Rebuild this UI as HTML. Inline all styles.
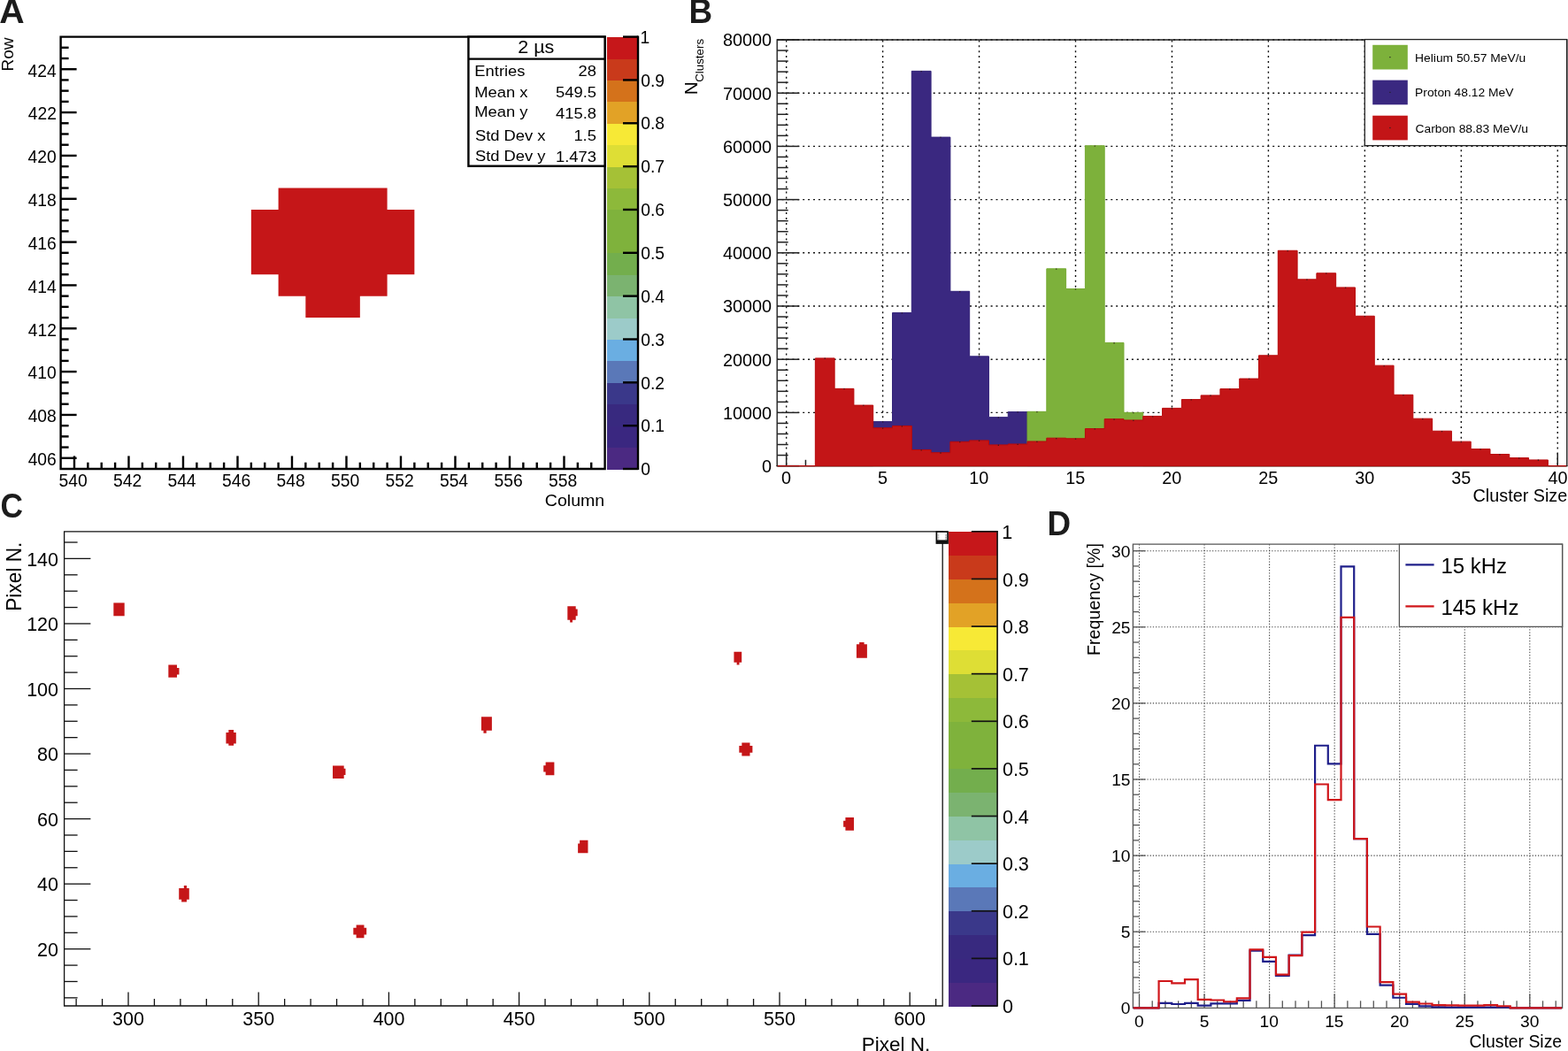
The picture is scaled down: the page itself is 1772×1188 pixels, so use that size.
<!DOCTYPE html><html><head><meta charset="utf-8"><title>Figure</title><style>html,body{margin:0;padding:0;background:#fff;overflow:hidden}svg{display:block}text{font-family:"Liberation Sans",Arial,Helvetica,sans-serif}</style></head><body>
<svg width="1772" height="1188" viewBox="0 0 1772 1188" font-family="Liberation Sans, Arial, Helvetica, sans-serif">
<rect x="0.00" y="0.00" width="1772.00" height="1188.00" fill="#fff"/>
<path d="M314.60 212.54H437.60V236.96H314.60ZM283.85 236.96H468.35V261.38H283.85ZM283.85 261.38H468.35V285.80H283.85ZM283.85 285.80H468.35V310.22H283.85ZM314.60 310.22H437.60V334.64H314.60ZM345.35 334.64H406.85V359.06H345.35Z" fill="#c51618"/>
<g shape-rendering="crispEdges">
<rect x="686.00" y="505.58" width="35.00" height="24.92" fill="#4b2982"/>
<rect x="686.00" y="481.16" width="35.00" height="24.92" fill="#3a2780"/>
<rect x="686.00" y="456.74" width="35.00" height="24.92" fill="#38297f"/>
<rect x="686.00" y="432.32" width="35.00" height="24.92" fill="#3a388a"/>
<rect x="686.00" y="407.90" width="35.00" height="24.92" fill="#5a78b8"/>
<rect x="686.00" y="383.48" width="35.00" height="24.92" fill="#6aaee2"/>
<rect x="686.00" y="359.06" width="35.00" height="24.92" fill="#9ccbc9"/>
<rect x="686.00" y="334.64" width="35.00" height="24.92" fill="#8fc4a5"/>
<rect x="686.00" y="310.22" width="35.00" height="24.92" fill="#7bb370"/>
<rect x="686.00" y="285.80" width="35.00" height="24.92" fill="#73ae4d"/>
<rect x="686.00" y="261.38" width="35.00" height="24.92" fill="#7fb23c"/>
<rect x="686.00" y="236.96" width="35.00" height="24.92" fill="#7fb23c"/>
<rect x="686.00" y="212.54" width="35.00" height="24.92" fill="#8db93a"/>
<rect x="686.00" y="188.12" width="35.00" height="24.92" fill="#a5c136"/>
<rect x="686.00" y="163.70" width="35.00" height="24.92" fill="#dede35"/>
<rect x="686.00" y="139.28" width="35.00" height="24.92" fill="#f7e936"/>
<rect x="686.00" y="114.86" width="35.00" height="24.92" fill="#e2a226"/>
<rect x="686.00" y="90.44" width="35.00" height="24.92" fill="#d4721b"/>
<rect x="686.00" y="66.02" width="35.00" height="24.92" fill="#c93a1b"/>
<rect x="686.00" y="41.60" width="35.00" height="24.92" fill="#c6171a"/>
</g>
<line x1="721.00" y1="40.60" x2="721.00" y2="531.00" stroke="#000" stroke-width="2.40"/>
<line x1="704.00" y1="530.00" x2="721.00" y2="530.00" stroke="#000" stroke-width="2.40"/>
<text transform="translate(724.23,537.20)" font-size="19.30" fill="#000">0</text>
<line x1="704.00" y1="481.16" x2="721.00" y2="481.16" stroke="#000" stroke-width="2.40"/>
<text transform="translate(724.23,488.36)" font-size="19.30" fill="#000">0.1</text>
<line x1="704.00" y1="432.32" x2="721.00" y2="432.32" stroke="#000" stroke-width="2.40"/>
<text transform="translate(724.23,439.52)" font-size="19.30" fill="#000">0.2</text>
<line x1="704.00" y1="383.48" x2="721.00" y2="383.48" stroke="#000" stroke-width="2.40"/>
<text transform="translate(724.23,390.68)" font-size="19.30" fill="#000">0.3</text>
<line x1="704.00" y1="334.64" x2="721.00" y2="334.64" stroke="#000" stroke-width="2.40"/>
<text transform="translate(724.23,341.84)" font-size="19.30" fill="#000">0.4</text>
<line x1="704.00" y1="285.80" x2="721.00" y2="285.80" stroke="#000" stroke-width="2.40"/>
<text transform="translate(724.23,293.00)" font-size="19.30" fill="#000">0.5</text>
<line x1="704.00" y1="236.96" x2="721.00" y2="236.96" stroke="#000" stroke-width="2.40"/>
<text transform="translate(724.23,244.16)" font-size="19.30" fill="#000">0.6</text>
<line x1="704.00" y1="188.12" x2="721.00" y2="188.12" stroke="#000" stroke-width="2.40"/>
<text transform="translate(724.23,195.32)" font-size="19.30" fill="#000">0.7</text>
<line x1="704.00" y1="139.28" x2="721.00" y2="139.28" stroke="#000" stroke-width="2.40"/>
<text transform="translate(724.23,146.48)" font-size="19.30" fill="#000">0.8</text>
<line x1="704.00" y1="90.44" x2="721.00" y2="90.44" stroke="#000" stroke-width="2.40"/>
<text transform="translate(724.23,97.64)" font-size="19.30" fill="#000">0.9</text>
<line x1="704.00" y1="41.60" x2="721.00" y2="41.60" stroke="#000" stroke-width="2.40"/>
<text transform="translate(723.55,48.80)" font-size="19.30" fill="#000">1</text>
<path d="M68.60 41.60 H683.60 V530.00 H68.60 Z" fill="none" stroke="#000" stroke-width="2.4"/>
<line x1="68.60" y1="517.79" x2="86.60" y2="517.79" stroke="#000" stroke-width="2.40"/>
<text transform="translate(31.64,526.14)" font-size="19.30" fill="#000">406</text>
<line x1="68.60" y1="505.58" x2="77.60" y2="505.58" stroke="#000" stroke-width="2.40"/>
<line x1="68.60" y1="493.37" x2="77.60" y2="493.37" stroke="#000" stroke-width="2.40"/>
<line x1="68.60" y1="481.16" x2="77.60" y2="481.16" stroke="#000" stroke-width="2.40"/>
<line x1="68.60" y1="468.95" x2="86.60" y2="468.95" stroke="#000" stroke-width="2.40"/>
<text transform="translate(31.64,477.30)" font-size="19.30" fill="#000">408</text>
<line x1="68.60" y1="456.74" x2="77.60" y2="456.74" stroke="#000" stroke-width="2.40"/>
<line x1="68.60" y1="444.53" x2="77.60" y2="444.53" stroke="#000" stroke-width="2.40"/>
<line x1="68.60" y1="432.32" x2="77.60" y2="432.32" stroke="#000" stroke-width="2.40"/>
<line x1="68.60" y1="420.11" x2="86.60" y2="420.11" stroke="#000" stroke-width="2.40"/>
<text transform="translate(31.54,428.46)" font-size="19.30" fill="#000">410</text>
<line x1="68.60" y1="407.90" x2="77.60" y2="407.90" stroke="#000" stroke-width="2.40"/>
<line x1="68.60" y1="395.69" x2="77.60" y2="395.69" stroke="#000" stroke-width="2.40"/>
<line x1="68.60" y1="383.48" x2="77.60" y2="383.48" stroke="#000" stroke-width="2.40"/>
<line x1="68.60" y1="371.27" x2="86.60" y2="371.27" stroke="#000" stroke-width="2.40"/>
<text transform="translate(31.83,379.62)" font-size="19.30" fill="#000">412</text>
<line x1="68.60" y1="359.06" x2="77.60" y2="359.06" stroke="#000" stroke-width="2.40"/>
<line x1="68.60" y1="346.85" x2="77.60" y2="346.85" stroke="#000" stroke-width="2.40"/>
<line x1="68.60" y1="334.64" x2="77.60" y2="334.64" stroke="#000" stroke-width="2.40"/>
<line x1="68.60" y1="322.43" x2="86.60" y2="322.43" stroke="#000" stroke-width="2.40"/>
<text transform="translate(31.44,330.78)" font-size="19.30" fill="#000">414</text>
<line x1="68.60" y1="310.22" x2="77.60" y2="310.22" stroke="#000" stroke-width="2.40"/>
<line x1="68.60" y1="298.01" x2="77.60" y2="298.01" stroke="#000" stroke-width="2.40"/>
<line x1="68.60" y1="285.80" x2="77.60" y2="285.80" stroke="#000" stroke-width="2.40"/>
<line x1="68.60" y1="273.59" x2="86.60" y2="273.59" stroke="#000" stroke-width="2.40"/>
<text transform="translate(31.64,281.94)" font-size="19.30" fill="#000">416</text>
<line x1="68.60" y1="261.38" x2="77.60" y2="261.38" stroke="#000" stroke-width="2.40"/>
<line x1="68.60" y1="249.17" x2="77.60" y2="249.17" stroke="#000" stroke-width="2.40"/>
<line x1="68.60" y1="236.96" x2="77.60" y2="236.96" stroke="#000" stroke-width="2.40"/>
<line x1="68.60" y1="224.75" x2="86.60" y2="224.75" stroke="#000" stroke-width="2.40"/>
<text transform="translate(31.64,233.10)" font-size="19.30" fill="#000">418</text>
<line x1="68.60" y1="212.54" x2="77.60" y2="212.54" stroke="#000" stroke-width="2.40"/>
<line x1="68.60" y1="200.33" x2="77.60" y2="200.33" stroke="#000" stroke-width="2.40"/>
<line x1="68.60" y1="188.12" x2="77.60" y2="188.12" stroke="#000" stroke-width="2.40"/>
<line x1="68.60" y1="175.91" x2="86.60" y2="175.91" stroke="#000" stroke-width="2.40"/>
<text transform="translate(31.54,184.26)" font-size="19.30" fill="#000">420</text>
<line x1="68.60" y1="163.70" x2="77.60" y2="163.70" stroke="#000" stroke-width="2.40"/>
<line x1="68.60" y1="151.49" x2="77.60" y2="151.49" stroke="#000" stroke-width="2.40"/>
<line x1="68.60" y1="139.28" x2="77.60" y2="139.28" stroke="#000" stroke-width="2.40"/>
<line x1="68.60" y1="127.07" x2="86.60" y2="127.07" stroke="#000" stroke-width="2.40"/>
<text transform="translate(31.83,135.42)" font-size="19.30" fill="#000">422</text>
<line x1="68.60" y1="114.86" x2="77.60" y2="114.86" stroke="#000" stroke-width="2.40"/>
<line x1="68.60" y1="102.65" x2="77.60" y2="102.65" stroke="#000" stroke-width="2.40"/>
<line x1="68.60" y1="90.44" x2="77.60" y2="90.44" stroke="#000" stroke-width="2.40"/>
<line x1="68.60" y1="78.23" x2="86.60" y2="78.23" stroke="#000" stroke-width="2.40"/>
<text transform="translate(31.44,86.58)" font-size="19.30" fill="#000">424</text>
<line x1="68.60" y1="66.02" x2="77.60" y2="66.02" stroke="#000" stroke-width="2.40"/>
<line x1="68.60" y1="53.81" x2="77.60" y2="53.81" stroke="#000" stroke-width="2.40"/>
<line x1="83.97" y1="530.00" x2="83.97" y2="515.40" stroke="#000" stroke-width="2.40"/>
<text transform="translate(66.46,550.20)" font-size="19.30" fill="#000">540</text>
<line x1="99.35" y1="530.00" x2="99.35" y2="522.70" stroke="#000" stroke-width="2.40"/>
<line x1="114.72" y1="530.00" x2="114.72" y2="522.70" stroke="#000" stroke-width="2.40"/>
<line x1="130.10" y1="530.00" x2="130.10" y2="522.70" stroke="#000" stroke-width="2.40"/>
<line x1="145.47" y1="530.00" x2="145.47" y2="515.40" stroke="#000" stroke-width="2.40"/>
<text transform="translate(128.10,550.20)" font-size="19.30" fill="#000">542</text>
<line x1="160.85" y1="530.00" x2="160.85" y2="522.70" stroke="#000" stroke-width="2.40"/>
<line x1="176.22" y1="530.00" x2="176.22" y2="522.70" stroke="#000" stroke-width="2.40"/>
<line x1="191.60" y1="530.00" x2="191.60" y2="522.70" stroke="#000" stroke-width="2.40"/>
<line x1="206.97" y1="530.00" x2="206.97" y2="515.40" stroke="#000" stroke-width="2.40"/>
<text transform="translate(189.41,550.20)" font-size="19.30" fill="#000">544</text>
<line x1="222.35" y1="530.00" x2="222.35" y2="522.70" stroke="#000" stroke-width="2.40"/>
<line x1="237.72" y1="530.00" x2="237.72" y2="522.70" stroke="#000" stroke-width="2.40"/>
<line x1="253.10" y1="530.00" x2="253.10" y2="522.70" stroke="#000" stroke-width="2.40"/>
<line x1="268.48" y1="530.00" x2="268.48" y2="515.40" stroke="#000" stroke-width="2.40"/>
<text transform="translate(251.01,550.20)" font-size="19.30" fill="#000">546</text>
<line x1="283.85" y1="530.00" x2="283.85" y2="522.70" stroke="#000" stroke-width="2.40"/>
<line x1="299.23" y1="530.00" x2="299.23" y2="522.70" stroke="#000" stroke-width="2.40"/>
<line x1="314.60" y1="530.00" x2="314.60" y2="522.70" stroke="#000" stroke-width="2.40"/>
<line x1="329.98" y1="530.00" x2="329.98" y2="515.40" stroke="#000" stroke-width="2.40"/>
<text transform="translate(312.51,550.20)" font-size="19.30" fill="#000">548</text>
<line x1="345.35" y1="530.00" x2="345.35" y2="522.70" stroke="#000" stroke-width="2.40"/>
<line x1="360.73" y1="530.00" x2="360.73" y2="522.70" stroke="#000" stroke-width="2.40"/>
<line x1="376.10" y1="530.00" x2="376.10" y2="522.70" stroke="#000" stroke-width="2.40"/>
<line x1="391.48" y1="530.00" x2="391.48" y2="515.40" stroke="#000" stroke-width="2.40"/>
<text transform="translate(373.96,550.20)" font-size="19.30" fill="#000">550</text>
<line x1="406.85" y1="530.00" x2="406.85" y2="522.70" stroke="#000" stroke-width="2.40"/>
<line x1="422.23" y1="530.00" x2="422.23" y2="522.70" stroke="#000" stroke-width="2.40"/>
<line x1="437.60" y1="530.00" x2="437.60" y2="522.70" stroke="#000" stroke-width="2.40"/>
<line x1="452.98" y1="530.00" x2="452.98" y2="515.40" stroke="#000" stroke-width="2.40"/>
<text transform="translate(435.60,550.20)" font-size="19.30" fill="#000">552</text>
<line x1="468.35" y1="530.00" x2="468.35" y2="522.70" stroke="#000" stroke-width="2.40"/>
<line x1="483.73" y1="530.00" x2="483.73" y2="522.70" stroke="#000" stroke-width="2.40"/>
<line x1="499.10" y1="530.00" x2="499.10" y2="522.70" stroke="#000" stroke-width="2.40"/>
<line x1="514.48" y1="530.00" x2="514.48" y2="515.40" stroke="#000" stroke-width="2.40"/>
<text transform="translate(496.91,550.20)" font-size="19.30" fill="#000">554</text>
<line x1="529.85" y1="530.00" x2="529.85" y2="522.70" stroke="#000" stroke-width="2.40"/>
<line x1="545.23" y1="530.00" x2="545.23" y2="522.70" stroke="#000" stroke-width="2.40"/>
<line x1="560.60" y1="530.00" x2="560.60" y2="522.70" stroke="#000" stroke-width="2.40"/>
<line x1="575.98" y1="530.00" x2="575.98" y2="515.40" stroke="#000" stroke-width="2.40"/>
<text transform="translate(558.51,550.20)" font-size="19.30" fill="#000">556</text>
<line x1="591.35" y1="530.00" x2="591.35" y2="522.70" stroke="#000" stroke-width="2.40"/>
<line x1="606.73" y1="530.00" x2="606.73" y2="522.70" stroke="#000" stroke-width="2.40"/>
<line x1="622.10" y1="530.00" x2="622.10" y2="522.70" stroke="#000" stroke-width="2.40"/>
<line x1="637.48" y1="530.00" x2="637.48" y2="515.40" stroke="#000" stroke-width="2.40"/>
<text transform="translate(620.01,550.20)" font-size="19.30" fill="#000">558</text>
<line x1="652.85" y1="530.00" x2="652.85" y2="522.70" stroke="#000" stroke-width="2.40"/>
<line x1="668.23" y1="530.00" x2="668.23" y2="522.70" stroke="#000" stroke-width="2.40"/>
<text transform="translate(615.81,571.60) scale(1.0200,1)" font-size="19.20" fill="#000">Column</text>
<text transform="translate(14.80,80.59) rotate(-90)" font-size="19.00" fill="#000">Row</text>
<rect x="529.40" y="41.60" width="154.20" height="146.10" fill="#fff" stroke="#000" stroke-width="2.40"/>
<line x1="529.40" y1="66.60" x2="683.60" y2="66.60" stroke="#000" stroke-width="2.40"/>
<text transform="translate(585.31,60.20) scale(1.0750,1)" font-size="20.00" fill="#000">2 µs</text>
<text transform="translate(536.33,85.75) scale(1.0800,1)" font-size="17.00" fill="#000">Entries</text>
<text transform="translate(653.55,85.75) scale(1.0800,1)" font-size="17.00" fill="#000">28</text>
<text transform="translate(536.33,109.70) scale(1.0800,1)" font-size="17.00" fill="#000">Mean x</text>
<text transform="translate(628.03,110.10) scale(1.0800,1)" font-size="17.00" fill="#000">549.5</text>
<text transform="translate(536.33,131.80) scale(1.0800,1)" font-size="17.00" fill="#000">Mean y</text>
<text transform="translate(628.03,134.10) scale(1.0800,1)" font-size="17.00" fill="#000">415.8</text>
<text transform="translate(536.97,158.90) scale(1.0800,1)" font-size="17.00" fill="#000">Std Dev x</text>
<text transform="translate(648.41,158.90) scale(1.0800,1)" font-size="17.00" fill="#000">1.5</text>
<text transform="translate(536.97,181.90) scale(1.0800,1)" font-size="17.00" fill="#000">Std Dev y</text>
<text transform="translate(628.03,183.00) scale(1.0800,1)" font-size="17.00" fill="#000">1.473</text>
<text transform="translate(-0.68,26.00) scale(1.0350,1)" font-size="38.00" font-weight="bold" fill="#1c1c1c">A</text>
<line x1="888.66" y1="526.60" x2="888.66" y2="45.00" stroke="#111" stroke-width="1.40" stroke-dasharray="2 3.9" stroke-dashoffset="4.6"/>
<line x1="997.61" y1="526.60" x2="997.61" y2="45.00" stroke="#111" stroke-width="1.40" stroke-dasharray="2 3.9" stroke-dashoffset="4.6"/>
<line x1="1106.56" y1="526.60" x2="1106.56" y2="45.00" stroke="#111" stroke-width="1.40" stroke-dasharray="2 3.9" stroke-dashoffset="4.6"/>
<line x1="1215.51" y1="526.60" x2="1215.51" y2="45.00" stroke="#111" stroke-width="1.40" stroke-dasharray="2 3.9" stroke-dashoffset="4.6"/>
<line x1="1324.46" y1="526.60" x2="1324.46" y2="45.00" stroke="#111" stroke-width="1.40" stroke-dasharray="2 3.9" stroke-dashoffset="4.6"/>
<line x1="1433.41" y1="526.60" x2="1433.41" y2="45.00" stroke="#111" stroke-width="1.40" stroke-dasharray="2 3.9" stroke-dashoffset="4.6"/>
<line x1="1542.36" y1="526.60" x2="1542.36" y2="45.00" stroke="#111" stroke-width="1.40" stroke-dasharray="2 3.9" stroke-dashoffset="4.6"/>
<line x1="1651.31" y1="526.60" x2="1651.31" y2="45.00" stroke="#111" stroke-width="1.40" stroke-dasharray="2 3.9" stroke-dashoffset="4.6"/>
<line x1="1760.26" y1="526.60" x2="1760.26" y2="45.00" stroke="#111" stroke-width="1.40" stroke-dasharray="2 3.9" stroke-dashoffset="4.6"/>
<line x1="878.20" y1="466.40" x2="1770.80" y2="466.40" stroke="#111" stroke-width="1.40" stroke-dasharray="2 3.9" stroke-dashoffset="0.5"/>
<line x1="878.20" y1="406.20" x2="1770.80" y2="406.20" stroke="#111" stroke-width="1.40" stroke-dasharray="2 3.9" stroke-dashoffset="0.5"/>
<line x1="878.20" y1="346.00" x2="1770.80" y2="346.00" stroke="#111" stroke-width="1.40" stroke-dasharray="2 3.9" stroke-dashoffset="0.5"/>
<line x1="878.20" y1="285.80" x2="1770.80" y2="285.80" stroke="#111" stroke-width="1.40" stroke-dasharray="2 3.9" stroke-dashoffset="0.5"/>
<line x1="878.20" y1="225.60" x2="1770.80" y2="225.60" stroke="#111" stroke-width="1.40" stroke-dasharray="2 3.9" stroke-dashoffset="0.5"/>
<line x1="878.20" y1="165.40" x2="1770.80" y2="165.40" stroke="#111" stroke-width="1.40" stroke-dasharray="2 3.9" stroke-dashoffset="0.5"/>
<line x1="878.20" y1="105.20" x2="1770.80" y2="105.20" stroke="#111" stroke-width="1.40" stroke-dasharray="2 3.9" stroke-dashoffset="0.5"/>
<line x1="878.20" y1="45.00" x2="1770.80" y2="45.00" stroke="#111" stroke-width="1.40" stroke-dasharray="2 3.9" stroke-dashoffset="0.5"/>
<line x1="878.20" y1="526.60" x2="903.20" y2="526.60" stroke="#222" stroke-width="1.50"/>
<line x1="878.20" y1="514.56" x2="890.70" y2="514.56" stroke="#222" stroke-width="1.50"/>
<line x1="878.20" y1="502.52" x2="890.70" y2="502.52" stroke="#222" stroke-width="1.50"/>
<line x1="878.20" y1="490.48" x2="890.70" y2="490.48" stroke="#222" stroke-width="1.50"/>
<line x1="878.20" y1="478.44" x2="890.70" y2="478.44" stroke="#222" stroke-width="1.50"/>
<line x1="878.20" y1="466.40" x2="903.20" y2="466.40" stroke="#222" stroke-width="1.50"/>
<line x1="878.20" y1="454.36" x2="890.70" y2="454.36" stroke="#222" stroke-width="1.50"/>
<line x1="878.20" y1="442.32" x2="890.70" y2="442.32" stroke="#222" stroke-width="1.50"/>
<line x1="878.20" y1="430.28" x2="890.70" y2="430.28" stroke="#222" stroke-width="1.50"/>
<line x1="878.20" y1="418.24" x2="890.70" y2="418.24" stroke="#222" stroke-width="1.50"/>
<line x1="878.20" y1="406.20" x2="903.20" y2="406.20" stroke="#222" stroke-width="1.50"/>
<line x1="878.20" y1="394.16" x2="890.70" y2="394.16" stroke="#222" stroke-width="1.50"/>
<line x1="878.20" y1="382.12" x2="890.70" y2="382.12" stroke="#222" stroke-width="1.50"/>
<line x1="878.20" y1="370.08" x2="890.70" y2="370.08" stroke="#222" stroke-width="1.50"/>
<line x1="878.20" y1="358.04" x2="890.70" y2="358.04" stroke="#222" stroke-width="1.50"/>
<line x1="878.20" y1="346.00" x2="903.20" y2="346.00" stroke="#222" stroke-width="1.50"/>
<line x1="878.20" y1="333.96" x2="890.70" y2="333.96" stroke="#222" stroke-width="1.50"/>
<line x1="878.20" y1="321.92" x2="890.70" y2="321.92" stroke="#222" stroke-width="1.50"/>
<line x1="878.20" y1="309.88" x2="890.70" y2="309.88" stroke="#222" stroke-width="1.50"/>
<line x1="878.20" y1="297.84" x2="890.70" y2="297.84" stroke="#222" stroke-width="1.50"/>
<line x1="878.20" y1="285.80" x2="903.20" y2="285.80" stroke="#222" stroke-width="1.50"/>
<line x1="878.20" y1="273.76" x2="890.70" y2="273.76" stroke="#222" stroke-width="1.50"/>
<line x1="878.20" y1="261.72" x2="890.70" y2="261.72" stroke="#222" stroke-width="1.50"/>
<line x1="878.20" y1="249.68" x2="890.70" y2="249.68" stroke="#222" stroke-width="1.50"/>
<line x1="878.20" y1="237.64" x2="890.70" y2="237.64" stroke="#222" stroke-width="1.50"/>
<line x1="878.20" y1="225.60" x2="903.20" y2="225.60" stroke="#222" stroke-width="1.50"/>
<line x1="878.20" y1="213.56" x2="890.70" y2="213.56" stroke="#222" stroke-width="1.50"/>
<line x1="878.20" y1="201.52" x2="890.70" y2="201.52" stroke="#222" stroke-width="1.50"/>
<line x1="878.20" y1="189.48" x2="890.70" y2="189.48" stroke="#222" stroke-width="1.50"/>
<line x1="878.20" y1="177.44" x2="890.70" y2="177.44" stroke="#222" stroke-width="1.50"/>
<line x1="878.20" y1="165.40" x2="903.20" y2="165.40" stroke="#222" stroke-width="1.50"/>
<line x1="878.20" y1="153.36" x2="890.70" y2="153.36" stroke="#222" stroke-width="1.50"/>
<line x1="878.20" y1="141.32" x2="890.70" y2="141.32" stroke="#222" stroke-width="1.50"/>
<line x1="878.20" y1="129.28" x2="890.70" y2="129.28" stroke="#222" stroke-width="1.50"/>
<line x1="878.20" y1="117.24" x2="890.70" y2="117.24" stroke="#222" stroke-width="1.50"/>
<line x1="878.20" y1="105.20" x2="903.20" y2="105.20" stroke="#222" stroke-width="1.50"/>
<line x1="878.20" y1="93.16" x2="890.70" y2="93.16" stroke="#222" stroke-width="1.50"/>
<line x1="878.20" y1="81.12" x2="890.70" y2="81.12" stroke="#222" stroke-width="1.50"/>
<line x1="878.20" y1="69.08" x2="890.70" y2="69.08" stroke="#222" stroke-width="1.50"/>
<line x1="878.20" y1="57.04" x2="890.70" y2="57.04" stroke="#222" stroke-width="1.50"/>
<line x1="878.20" y1="45.00" x2="903.20" y2="45.00" stroke="#222" stroke-width="1.50"/>
<line x1="888.66" y1="526.60" x2="888.66" y2="512.20" stroke="#222" stroke-width="1.50"/>
<line x1="910.45" y1="526.60" x2="910.45" y2="519.80" stroke="#222" stroke-width="1.50"/>
<line x1="932.24" y1="526.60" x2="932.24" y2="519.80" stroke="#222" stroke-width="1.50"/>
<line x1="954.03" y1="526.60" x2="954.03" y2="519.80" stroke="#222" stroke-width="1.50"/>
<line x1="975.82" y1="526.60" x2="975.82" y2="519.80" stroke="#222" stroke-width="1.50"/>
<line x1="997.61" y1="526.60" x2="997.61" y2="512.20" stroke="#222" stroke-width="1.50"/>
<line x1="1019.40" y1="526.60" x2="1019.40" y2="519.80" stroke="#222" stroke-width="1.50"/>
<line x1="1041.19" y1="526.60" x2="1041.19" y2="519.80" stroke="#222" stroke-width="1.50"/>
<line x1="1062.98" y1="526.60" x2="1062.98" y2="519.80" stroke="#222" stroke-width="1.50"/>
<line x1="1084.77" y1="526.60" x2="1084.77" y2="519.80" stroke="#222" stroke-width="1.50"/>
<line x1="1106.56" y1="526.60" x2="1106.56" y2="512.20" stroke="#222" stroke-width="1.50"/>
<line x1="1128.35" y1="526.60" x2="1128.35" y2="519.80" stroke="#222" stroke-width="1.50"/>
<line x1="1150.14" y1="526.60" x2="1150.14" y2="519.80" stroke="#222" stroke-width="1.50"/>
<line x1="1171.93" y1="526.60" x2="1171.93" y2="519.80" stroke="#222" stroke-width="1.50"/>
<line x1="1193.72" y1="526.60" x2="1193.72" y2="519.80" stroke="#222" stroke-width="1.50"/>
<line x1="1215.51" y1="526.60" x2="1215.51" y2="512.20" stroke="#222" stroke-width="1.50"/>
<line x1="1237.30" y1="526.60" x2="1237.30" y2="519.80" stroke="#222" stroke-width="1.50"/>
<line x1="1259.09" y1="526.60" x2="1259.09" y2="519.80" stroke="#222" stroke-width="1.50"/>
<line x1="1280.88" y1="526.60" x2="1280.88" y2="519.80" stroke="#222" stroke-width="1.50"/>
<line x1="1302.67" y1="526.60" x2="1302.67" y2="519.80" stroke="#222" stroke-width="1.50"/>
<line x1="1324.46" y1="526.60" x2="1324.46" y2="512.20" stroke="#222" stroke-width="1.50"/>
<line x1="1346.25" y1="526.60" x2="1346.25" y2="519.80" stroke="#222" stroke-width="1.50"/>
<line x1="1368.04" y1="526.60" x2="1368.04" y2="519.80" stroke="#222" stroke-width="1.50"/>
<line x1="1389.83" y1="526.60" x2="1389.83" y2="519.80" stroke="#222" stroke-width="1.50"/>
<line x1="1411.62" y1="526.60" x2="1411.62" y2="519.80" stroke="#222" stroke-width="1.50"/>
<line x1="1433.41" y1="526.60" x2="1433.41" y2="512.20" stroke="#222" stroke-width="1.50"/>
<line x1="1455.20" y1="526.60" x2="1455.20" y2="519.80" stroke="#222" stroke-width="1.50"/>
<line x1="1476.99" y1="526.60" x2="1476.99" y2="519.80" stroke="#222" stroke-width="1.50"/>
<line x1="1498.78" y1="526.60" x2="1498.78" y2="519.80" stroke="#222" stroke-width="1.50"/>
<line x1="1520.57" y1="526.60" x2="1520.57" y2="519.80" stroke="#222" stroke-width="1.50"/>
<line x1="1542.36" y1="526.60" x2="1542.36" y2="512.20" stroke="#222" stroke-width="1.50"/>
<line x1="1564.15" y1="526.60" x2="1564.15" y2="519.80" stroke="#222" stroke-width="1.50"/>
<line x1="1585.94" y1="526.60" x2="1585.94" y2="519.80" stroke="#222" stroke-width="1.50"/>
<line x1="1607.73" y1="526.60" x2="1607.73" y2="519.80" stroke="#222" stroke-width="1.50"/>
<line x1="1629.52" y1="526.60" x2="1629.52" y2="519.80" stroke="#222" stroke-width="1.50"/>
<line x1="1651.31" y1="526.60" x2="1651.31" y2="512.20" stroke="#222" stroke-width="1.50"/>
<line x1="1673.10" y1="526.60" x2="1673.10" y2="519.80" stroke="#222" stroke-width="1.50"/>
<line x1="1694.89" y1="526.60" x2="1694.89" y2="519.80" stroke="#222" stroke-width="1.50"/>
<line x1="1716.68" y1="526.60" x2="1716.68" y2="519.80" stroke="#222" stroke-width="1.50"/>
<line x1="1738.47" y1="526.60" x2="1738.47" y2="519.80" stroke="#222" stroke-width="1.50"/>
<line x1="1760.26" y1="526.60" x2="1760.26" y2="512.20" stroke="#222" stroke-width="1.50"/>
<path d="M877.76 526.60 H877.76 V526.60 H899.55 H899.55 V526.60 H921.35 H921.35 V526.60 H943.13 H943.13 V526.60 H964.92 H964.92 V526.60 H986.71 H986.71 V476.62 H1008.50 H1008.50 V353.57 H1030.30 H1030.30 V80.36 H1052.09 H1052.09 V155.08 H1073.88 H1073.88 V329.32 H1095.66 H1095.66 V402.83 H1117.45 H1117.45 V471.63 H1139.24 H1139.24 V465.62 H1161.03 H1161.03 V526.60 H1182.82 H1182.82 V526.60 H1204.62 H1204.62 V526.60 H1226.40 H1226.40 V526.60 H1248.19 H1248.19 V526.60 H1269.98 H1269.98 V526.60 H1291.78 H1291.78 V526.60 H1313.57 H1313.57 V526.60 H1335.36 H1335.36 V526.60 H1357.14 H1357.14 V526.60 H1378.93 H1378.93 V526.60 H1400.72 H1400.72 V526.60 H1422.51 H1422.51 V526.60 H1444.30 H1444.30 V526.60 H1466.09 H1466.09 V526.60 H1487.88 H1487.88 V526.60 H1509.67 H1509.67 V526.60 H1531.46 H1531.46 V526.60 H1553.26 H1553.26 V526.60 H1575.05 H1575.05 V526.60 H1596.84 H1596.84 V526.60 H1618.62 H1618.62 V526.60 H1640.41 H1640.41 V526.60 H1662.20 H1662.20 V526.60 H1683.99 H1683.99 V526.60 H1705.78 H1705.78 V526.60 H1727.57 H1727.57 V526.60 H1749.36 H1749.36 V526.60 H1771.15 V526.60 Z" fill="#3a2880" stroke="#34247a" stroke-width="1"/>
<path d="M1018.75 353.27h1.3v1.3h-1.3ZM1040.54 80.06h1.3v1.3h-1.3ZM1062.33 154.78h1.3v1.3h-1.3ZM1084.12 329.02h1.3v1.3h-1.3ZM1105.91 402.53h1.3v1.3h-1.3ZM1127.70 471.33h1.3v1.3h-1.3ZM1149.49 465.32h1.3v1.3h-1.3ZM996.96 476.32h1.3v1.3h-1.3Z" fill="#2a1a1a" opacity="0.8"/>
<path d="M877.76 526.60 H877.76 V526.60 H899.55 H899.55 V526.60 H921.35 H921.35 V526.60 H943.13 H943.13 V526.60 H964.92 H964.92 V526.60 H986.71 H986.71 V526.60 H1008.50 H1008.50 V526.60 H1030.30 H1030.30 V526.60 H1052.09 H1052.09 V526.60 H1073.88 H1073.88 V526.60 H1095.66 H1095.66 V526.60 H1117.45 H1117.45 V526.60 H1139.24 H1139.24 V526.60 H1161.03 H1161.03 V465.32 H1182.82 H1182.82 V303.80 H1204.62 H1204.62 V326.56 H1226.40 H1226.40 V164.74 H1248.19 H1248.19 V387.42 H1269.98 H1269.98 V466.34 H1291.78 H1291.78 V526.60 H1313.57 H1313.57 V526.60 H1335.36 H1335.36 V526.60 H1357.14 H1357.14 V526.60 H1378.93 H1378.93 V526.60 H1400.72 H1400.72 V526.60 H1422.51 H1422.51 V526.60 H1444.30 H1444.30 V526.60 H1466.09 H1466.09 V526.60 H1487.88 H1487.88 V526.60 H1509.67 H1509.67 V526.60 H1531.46 H1531.46 V526.60 H1553.26 H1553.26 V526.60 H1575.05 H1575.05 V526.60 H1596.84 H1596.84 V526.60 H1618.62 H1618.62 V526.60 H1640.41 H1640.41 V526.60 H1662.20 H1662.20 V526.60 H1683.99 H1683.99 V526.60 H1705.78 H1705.78 V526.60 H1727.57 H1727.57 V526.60 H1749.36 H1749.36 V526.60 H1771.15 V526.60 Z" fill="#7db13b" stroke="#76ab33" stroke-width="1"/>
<path d="M1171.28 465.02h1.3v1.3h-1.3ZM1193.07 303.50h1.3v1.3h-1.3ZM1214.86 326.26h1.3v1.3h-1.3ZM1236.65 164.44h1.3v1.3h-1.3ZM1258.44 387.12h1.3v1.3h-1.3ZM1280.23 466.04h1.3v1.3h-1.3Z" fill="#2a1a1a" opacity="0.8"/>
<path d="M877.76 526.60 H877.76 V526.60 H899.55 H899.55 V526.60 H921.35 H921.35 V404.90 H943.13 H943.13 V439.35 H964.92 H964.92 V458.09 H986.71 H986.71 V483.73 H1008.50 H1008.50 V481.45 H1030.30 H1030.30 V508.48 H1052.09 H1052.09 V511.67 H1073.88 H1073.88 V499.27 H1095.66 H1095.66 V497.88 H1117.45 H1117.45 V502.88 H1139.24 H1139.24 V501.98 H1161.03 H1161.03 V498.97 H1182.82 H1182.82 V495.18 H1204.62 H1204.62 V495.78 H1226.40 H1226.40 V484.58 H1248.19 H1248.19 V473.68 H1269.98 H1269.98 V474.95 H1291.78 H1291.78 V470.43 H1313.57 H1313.57 V461.40 H1335.36 H1335.36 V451.59 H1357.14 H1357.14 V446.90 H1378.93 H1378.93 V439.61 H1400.72 H1400.72 V428.05 H1422.51 H1422.51 V401.81 H1444.30 H1444.30 V283.27 H1466.09 H1466.09 V315.84 H1487.88 H1487.88 V308.80 H1509.67 H1509.67 V324.93 H1531.46 H1531.46 V357.26 H1553.26 H1553.26 V413.18 H1575.05 H1575.05 V446.29 H1596.84 H1596.84 V473.20 H1618.62 H1618.62 V487.23 H1640.41 H1640.41 V499.15 H1662.20 H1662.20 V507.58 H1683.99 H1683.99 V513.48 H1705.78 H1705.78 V517.57 H1727.57 H1727.57 V519.92 H1749.36 H1749.36 V526.60 H1771.15 V526.60 Z" fill="#c31517" stroke="#b80a0c" stroke-width="1"/>
<path d="M931.59 404.60h1.3v1.3h-1.3ZM953.38 439.05h1.3v1.3h-1.3ZM975.17 457.79h1.3v1.3h-1.3ZM996.96 483.43h1.3v1.3h-1.3ZM1018.75 481.15h1.3v1.3h-1.3ZM1040.54 508.18h1.3v1.3h-1.3ZM1062.33 511.37h1.3v1.3h-1.3ZM1084.12 498.97h1.3v1.3h-1.3ZM1105.91 497.58h1.3v1.3h-1.3ZM1127.70 502.58h1.3v1.3h-1.3ZM1149.49 501.68h1.3v1.3h-1.3ZM1171.28 498.67h1.3v1.3h-1.3ZM1193.07 494.88h1.3v1.3h-1.3ZM1214.86 495.48h1.3v1.3h-1.3ZM1236.65 484.28h1.3v1.3h-1.3ZM1258.44 473.38h1.3v1.3h-1.3ZM1280.23 474.65h1.3v1.3h-1.3ZM1302.02 470.13h1.3v1.3h-1.3ZM1323.81 461.10h1.3v1.3h-1.3ZM1345.60 451.29h1.3v1.3h-1.3ZM1367.39 446.60h1.3v1.3h-1.3ZM1389.18 439.31h1.3v1.3h-1.3ZM1410.97 427.75h1.3v1.3h-1.3ZM1432.76 401.51h1.3v1.3h-1.3ZM1454.55 282.97h1.3v1.3h-1.3ZM1476.34 315.54h1.3v1.3h-1.3ZM1498.13 308.50h1.3v1.3h-1.3ZM1519.92 324.63h1.3v1.3h-1.3ZM1541.71 356.96h1.3v1.3h-1.3ZM1563.50 412.88h1.3v1.3h-1.3ZM1585.29 445.99h1.3v1.3h-1.3ZM1607.08 472.90h1.3v1.3h-1.3ZM1628.87 486.93h1.3v1.3h-1.3ZM1650.66 498.85h1.3v1.3h-1.3ZM1672.45 507.28h1.3v1.3h-1.3ZM1694.24 513.18h1.3v1.3h-1.3ZM1716.03 517.27h1.3v1.3h-1.3ZM1737.82 519.62h1.3v1.3h-1.3Z" fill="#2a1a1a" opacity="0.8"/>
<path d="M878.20 45.00 H1770.80 V526.60 H878.20 Z" fill="none" stroke="#222" stroke-width="1.4"/>
<line x1="878.90" y1="526.60" x2="1770.10" y2="526.60" stroke="#b50c0c" stroke-width="1.40"/>
<text transform="translate(861.10,534.00)" font-size="19.80" fill="#000">0</text>
<text transform="translate(817.05,473.80)" font-size="19.80" fill="#000">10000</text>
<text transform="translate(817.05,413.60)" font-size="19.80" fill="#000">20000</text>
<text transform="translate(817.05,353.40)" font-size="19.80" fill="#000">30000</text>
<text transform="translate(817.05,293.20)" font-size="19.80" fill="#000">40000</text>
<text transform="translate(817.05,233.00)" font-size="19.80" fill="#000">50000</text>
<text transform="translate(817.05,172.80)" font-size="19.80" fill="#000">60000</text>
<text transform="translate(817.05,112.60)" font-size="19.80" fill="#000">70000</text>
<text transform="translate(817.05,52.40)" font-size="19.80" fill="#000">80000</text>
<text transform="translate(883.12,546.50)" font-size="19.80" fill="#000">0</text>
<text transform="translate(992.12,546.50)" font-size="19.80" fill="#000">5</text>
<text transform="translate(1095.17,546.50)" font-size="19.80" fill="#000">10</text>
<text transform="translate(1204.17,546.50)" font-size="19.80" fill="#000">15</text>
<text transform="translate(1313.32,546.50)" font-size="19.80" fill="#000">20</text>
<text transform="translate(1422.32,546.50)" font-size="19.80" fill="#000">25</text>
<text transform="translate(1531.32,546.50)" font-size="19.80" fill="#000">30</text>
<text transform="translate(1640.32,546.50)" font-size="19.80" fill="#000">35</text>
<text transform="translate(1749.42,546.50)" font-size="19.80" fill="#000">40</text>
<text transform="translate(1664.57,567.30)" font-size="19.80" fill="#000">Cluster Size</text>
<text transform="translate(788.00,107.24) rotate(-90)" font-size="20.50" fill="#000">N</text>
<text transform="translate(795.30,92.87) rotate(-90) scale(1.0600,1.0000)" font-size="12.60" fill="#000">Clusters</text>
<rect x="1542.30" y="44.60" width="228.30" height="120.00" fill="#fff" stroke="#222" stroke-width="1.30"/>
<rect x="1551.20" y="50.80" width="39.60" height="27.70" fill="#7db13b"/>
<rect x="1570.30" y="64.00" width="1.20" height="1.20" fill="#222"/>
<text transform="translate(1599.09,69.80) scale(1.0400,1)" font-size="13.30" fill="#000">Helium 50.57 MeV/u</text>
<rect x="1551.20" y="90.60" width="39.60" height="27.70" fill="#3a2880"/>
<rect x="1570.30" y="103.80" width="1.20" height="1.20" fill="#222"/>
<text transform="translate(1599.09,109.30) scale(1.0400,1)" font-size="13.30" fill="#000">Proton 48.12 MeV</text>
<rect x="1551.20" y="130.70" width="39.60" height="27.70" fill="#c31517"/>
<rect x="1570.30" y="143.90" width="1.20" height="1.20" fill="#222"/>
<text transform="translate(1599.51,149.70) scale(1.0400,1)" font-size="13.30" fill="#000">Carbon 88.83 MeV/u</text>
<text transform="translate(778.40,26.00) scale(0.9700,1)" font-size="38.00" font-weight="bold" fill="#1c1c1c">B</text>
<path d="M128.32 681.42H140.68V696.28H128.32Z" fill="#c51618"/>
<path d="M190.32 751.42H199.98V765.68H190.32ZM198.22 755.12H202.48V762.48H198.22Z" fill="#c51618"/>
<path d="M258.32 825.12H264.08V829.78H258.32ZM255.42 828.02H266.78V840.48H255.42ZM258.32 838.72H264.08V842.68H258.32Z" fill="#c51618"/>
<path d="M376.02 865.52H388.68V879.98H376.02ZM386.92 868.82H390.48V875.88H386.92Z" fill="#c51618"/>
<path d="M207.82 1001.12H210.98V1005.88H207.82ZM202.22 1004.12H213.78V1016.78H202.22ZM205.12 1015.02H210.98V1019.48H205.12Z" fill="#c51618"/>
<path d="M402.62 1045.62H411.48V1060.28H402.62ZM399.32 1048.82H414.18V1056.48H399.32Z" fill="#c51618"/>
<path d="M543.92 810.22H555.88V825.68H543.92ZM546.42 823.92H549.68V828.78H546.42Z" fill="#c51618"/>
<path d="M641.32 685.32H650.68V700.78H641.32ZM648.92 688.52H652.68V696.18H648.92ZM644.12 699.02H646.98V703.58H644.12Z" fill="#c51618"/>
<path d="M616.62 861.62H626.38V876.18H616.62ZM614.22 865.32H618.38V872.48H614.22Z" fill="#c51618"/>
<path d="M655.12 949.82H664.48V964.28H655.12ZM653.12 953.62H656.88V964.28H653.12Z" fill="#c51618"/>
<path d="M829.42 736.82H838.18V748.68H829.42ZM832.62 746.92H835.48V751.48H832.62Z" fill="#c51618"/>
<path d="M838.32 839.42H847.48V854.48H838.32ZM835.32 843.12H850.38V850.68H835.32Z" fill="#c51618"/>
<path d="M967.92 728.22H979.88V743.68H967.92ZM971.12 726.12H976.58V729.98H971.12Z" fill="#c51618"/>
<path d="M955.42 924.12H964.98V938.68H955.42ZM953.12 927.82H957.18V934.68H953.12Z" fill="#c51618"/>
<g shape-rendering="crispEdges">
<rect x="1071.50" y="1110.19" width="55.60" height="27.31" fill="#4b2982"/>
<rect x="1071.50" y="1083.38" width="55.60" height="27.31" fill="#3a2780"/>
<rect x="1071.50" y="1056.57" width="55.60" height="27.31" fill="#38297f"/>
<rect x="1071.50" y="1029.76" width="55.60" height="27.31" fill="#3a388a"/>
<rect x="1071.50" y="1002.95" width="55.60" height="27.31" fill="#5a78b8"/>
<rect x="1071.50" y="976.14" width="55.60" height="27.31" fill="#6aaee2"/>
<rect x="1071.50" y="949.33" width="55.60" height="27.31" fill="#9ccbc9"/>
<rect x="1071.50" y="922.52" width="55.60" height="27.31" fill="#8fc4a5"/>
<rect x="1071.50" y="895.71" width="55.60" height="27.31" fill="#7bb370"/>
<rect x="1071.50" y="868.90" width="55.60" height="27.31" fill="#73ae4d"/>
<rect x="1071.50" y="842.09" width="55.60" height="27.31" fill="#7fb23c"/>
<rect x="1071.50" y="815.28" width="55.60" height="27.31" fill="#7fb23c"/>
<rect x="1071.50" y="788.47" width="55.60" height="27.31" fill="#8db93a"/>
<rect x="1071.50" y="761.66" width="55.60" height="27.31" fill="#a5c136"/>
<rect x="1071.50" y="734.85" width="55.60" height="27.31" fill="#dede35"/>
<rect x="1071.50" y="708.04" width="55.60" height="27.31" fill="#f7e936"/>
<rect x="1071.50" y="681.23" width="55.60" height="27.31" fill="#e2a226"/>
<rect x="1071.50" y="654.42" width="55.60" height="27.31" fill="#d4721b"/>
<rect x="1071.50" y="627.61" width="55.60" height="27.31" fill="#c93a1b"/>
<rect x="1071.50" y="600.80" width="55.60" height="27.31" fill="#c6171a"/>
</g>
<line x1="1127.10" y1="600.00" x2="1127.10" y2="1137.80" stroke="#111" stroke-width="1.60"/>
<line x1="1097.80" y1="1137.00" x2="1127.10" y2="1137.00" stroke="#111" stroke-width="1.70"/>
<text transform="translate(1132.94,1145.10)" font-size="21.50" fill="#000">0</text>
<line x1="1097.80" y1="1083.38" x2="1127.10" y2="1083.38" stroke="#111" stroke-width="1.70"/>
<text transform="translate(1132.94,1091.48)" font-size="21.50" fill="#000">0.1</text>
<line x1="1097.80" y1="1029.76" x2="1127.10" y2="1029.76" stroke="#111" stroke-width="1.70"/>
<text transform="translate(1132.94,1037.86)" font-size="21.50" fill="#000">0.2</text>
<line x1="1097.80" y1="976.14" x2="1127.10" y2="976.14" stroke="#111" stroke-width="1.70"/>
<text transform="translate(1132.94,984.24)" font-size="21.50" fill="#000">0.3</text>
<line x1="1097.80" y1="922.52" x2="1127.10" y2="922.52" stroke="#111" stroke-width="1.70"/>
<text transform="translate(1132.94,930.62)" font-size="21.50" fill="#000">0.4</text>
<line x1="1097.80" y1="868.90" x2="1127.10" y2="868.90" stroke="#111" stroke-width="1.70"/>
<text transform="translate(1132.94,877.00)" font-size="21.50" fill="#000">0.5</text>
<line x1="1097.80" y1="815.28" x2="1127.10" y2="815.28" stroke="#111" stroke-width="1.70"/>
<text transform="translate(1132.94,823.38)" font-size="21.50" fill="#000">0.6</text>
<line x1="1097.80" y1="761.66" x2="1127.10" y2="761.66" stroke="#111" stroke-width="1.70"/>
<text transform="translate(1132.94,769.76)" font-size="21.50" fill="#000">0.7</text>
<line x1="1097.80" y1="708.04" x2="1127.10" y2="708.04" stroke="#111" stroke-width="1.70"/>
<text transform="translate(1132.94,716.14)" font-size="21.50" fill="#000">0.8</text>
<line x1="1097.80" y1="654.42" x2="1127.10" y2="654.42" stroke="#111" stroke-width="1.70"/>
<text transform="translate(1132.94,662.52)" font-size="21.50" fill="#000">0.9</text>
<line x1="1097.80" y1="600.80" x2="1127.10" y2="600.80" stroke="#111" stroke-width="1.70"/>
<text transform="translate(1132.19,608.90)" font-size="21.50" fill="#000">1</text>
<path d="M72.60 600.80 H1065.20 V1137.00 H72.60 Z" fill="none" stroke="#111" stroke-width="1.3"/>
<rect x="1058.40" y="601.00" width="12.60" height="13.00" fill="#fff" stroke="#0a0a0a" stroke-width="1.70"/>
<rect x="1058.40" y="610.40" width="12.60" height="3.60" fill="#111"/>
<rect x="1059.30" y="604.50" width="2.00" height="1.00" fill="#9a9a9a"/>
<rect x="1068.00" y="604.50" width="2.40" height="1.00" fill="#8a8a8a"/>
<rect x="1059.30" y="606.70" width="2.00" height="1.00" fill="#9a9a9a"/>
<rect x="1068.00" y="606.70" width="2.40" height="1.00" fill="#8a8a8a"/>
<rect x="1059.30" y="608.60" width="2.00" height="1.00" fill="#9a9a9a"/>
<rect x="1068.00" y="608.60" width="2.40" height="1.00" fill="#8a8a8a"/>
<line x1="72.60" y1="1127.86" x2="87.60" y2="1127.86" stroke="#111" stroke-width="1.30"/>
<line x1="72.60" y1="1109.47" x2="87.60" y2="1109.47" stroke="#111" stroke-width="1.30"/>
<line x1="72.60" y1="1091.09" x2="87.60" y2="1091.09" stroke="#111" stroke-width="1.30"/>
<line x1="72.60" y1="1072.70" x2="102.40" y2="1072.70" stroke="#111" stroke-width="1.30"/>
<text transform="translate(42.09,1080.80)" font-size="21.50" fill="#000">20</text>
<line x1="72.60" y1="1054.31" x2="87.60" y2="1054.31" stroke="#111" stroke-width="1.30"/>
<line x1="72.60" y1="1035.92" x2="87.60" y2="1035.92" stroke="#111" stroke-width="1.30"/>
<line x1="72.60" y1="1017.54" x2="87.60" y2="1017.54" stroke="#111" stroke-width="1.30"/>
<line x1="72.60" y1="999.15" x2="102.40" y2="999.15" stroke="#111" stroke-width="1.30"/>
<text transform="translate(42.09,1007.25)" font-size="21.50" fill="#000">40</text>
<line x1="72.60" y1="980.76" x2="87.60" y2="980.76" stroke="#111" stroke-width="1.30"/>
<line x1="72.60" y1="962.38" x2="87.60" y2="962.38" stroke="#111" stroke-width="1.30"/>
<line x1="72.60" y1="943.99" x2="87.60" y2="943.99" stroke="#111" stroke-width="1.30"/>
<line x1="72.60" y1="925.60" x2="102.40" y2="925.60" stroke="#111" stroke-width="1.30"/>
<text transform="translate(42.09,933.70)" font-size="21.50" fill="#000">60</text>
<line x1="72.60" y1="907.21" x2="87.60" y2="907.21" stroke="#111" stroke-width="1.30"/>
<line x1="72.60" y1="888.83" x2="87.60" y2="888.83" stroke="#111" stroke-width="1.30"/>
<line x1="72.60" y1="870.44" x2="87.60" y2="870.44" stroke="#111" stroke-width="1.30"/>
<line x1="72.60" y1="852.05" x2="102.40" y2="852.05" stroke="#111" stroke-width="1.30"/>
<text transform="translate(42.09,860.15)" font-size="21.50" fill="#000">80</text>
<line x1="72.60" y1="833.66" x2="87.60" y2="833.66" stroke="#111" stroke-width="1.30"/>
<line x1="72.60" y1="815.27" x2="87.60" y2="815.27" stroke="#111" stroke-width="1.30"/>
<line x1="72.60" y1="796.89" x2="87.60" y2="796.89" stroke="#111" stroke-width="1.30"/>
<line x1="72.60" y1="778.50" x2="102.40" y2="778.50" stroke="#111" stroke-width="1.30"/>
<text transform="translate(30.16,786.60)" font-size="21.50" fill="#000">100</text>
<line x1="72.60" y1="760.11" x2="87.60" y2="760.11" stroke="#111" stroke-width="1.30"/>
<line x1="72.60" y1="741.73" x2="87.60" y2="741.73" stroke="#111" stroke-width="1.30"/>
<line x1="72.60" y1="723.34" x2="87.60" y2="723.34" stroke="#111" stroke-width="1.30"/>
<line x1="72.60" y1="704.95" x2="102.40" y2="704.95" stroke="#111" stroke-width="1.30"/>
<text transform="translate(30.16,713.05)" font-size="21.50" fill="#000">120</text>
<line x1="72.60" y1="686.56" x2="87.60" y2="686.56" stroke="#111" stroke-width="1.30"/>
<line x1="72.60" y1="668.17" x2="87.60" y2="668.17" stroke="#111" stroke-width="1.30"/>
<line x1="72.60" y1="649.79" x2="87.60" y2="649.79" stroke="#111" stroke-width="1.30"/>
<line x1="72.60" y1="631.40" x2="102.40" y2="631.40" stroke="#111" stroke-width="1.30"/>
<text transform="translate(30.16,639.50)" font-size="21.50" fill="#000">140</text>
<line x1="72.60" y1="613.01" x2="87.60" y2="613.01" stroke="#111" stroke-width="1.30"/>
<line x1="86.12" y1="1137.00" x2="86.12" y2="1129.00" stroke="#111" stroke-width="1.30"/>
<line x1="115.56" y1="1137.00" x2="115.56" y2="1129.00" stroke="#111" stroke-width="1.30"/>
<line x1="145.00" y1="1137.00" x2="145.00" y2="1121.40" stroke="#111" stroke-width="1.30"/>
<text transform="translate(127.05,1159.30)" font-size="21.50" fill="#000">300</text>
<line x1="174.44" y1="1137.00" x2="174.44" y2="1129.00" stroke="#111" stroke-width="1.30"/>
<line x1="203.88" y1="1137.00" x2="203.88" y2="1129.00" stroke="#111" stroke-width="1.30"/>
<line x1="233.32" y1="1137.00" x2="233.32" y2="1129.00" stroke="#111" stroke-width="1.30"/>
<line x1="262.76" y1="1137.00" x2="262.76" y2="1129.00" stroke="#111" stroke-width="1.30"/>
<line x1="292.20" y1="1137.00" x2="292.20" y2="1121.40" stroke="#111" stroke-width="1.30"/>
<text transform="translate(274.25,1159.30)" font-size="21.50" fill="#000">350</text>
<line x1="321.64" y1="1137.00" x2="321.64" y2="1129.00" stroke="#111" stroke-width="1.30"/>
<line x1="351.08" y1="1137.00" x2="351.08" y2="1129.00" stroke="#111" stroke-width="1.30"/>
<line x1="380.52" y1="1137.00" x2="380.52" y2="1129.00" stroke="#111" stroke-width="1.30"/>
<line x1="409.96" y1="1137.00" x2="409.96" y2="1129.00" stroke="#111" stroke-width="1.30"/>
<line x1="439.40" y1="1137.00" x2="439.40" y2="1121.40" stroke="#111" stroke-width="1.30"/>
<text transform="translate(421.66,1159.30)" font-size="21.50" fill="#000">400</text>
<line x1="468.84" y1="1137.00" x2="468.84" y2="1129.00" stroke="#111" stroke-width="1.30"/>
<line x1="498.28" y1="1137.00" x2="498.28" y2="1129.00" stroke="#111" stroke-width="1.30"/>
<line x1="527.72" y1="1137.00" x2="527.72" y2="1129.00" stroke="#111" stroke-width="1.30"/>
<line x1="557.16" y1="1137.00" x2="557.16" y2="1129.00" stroke="#111" stroke-width="1.30"/>
<line x1="586.60" y1="1137.00" x2="586.60" y2="1121.40" stroke="#111" stroke-width="1.30"/>
<text transform="translate(568.86,1159.30)" font-size="21.50" fill="#000">450</text>
<line x1="616.04" y1="1137.00" x2="616.04" y2="1129.00" stroke="#111" stroke-width="1.30"/>
<line x1="645.48" y1="1137.00" x2="645.48" y2="1129.00" stroke="#111" stroke-width="1.30"/>
<line x1="674.92" y1="1137.00" x2="674.92" y2="1129.00" stroke="#111" stroke-width="1.30"/>
<line x1="704.36" y1="1137.00" x2="704.36" y2="1129.00" stroke="#111" stroke-width="1.30"/>
<line x1="733.80" y1="1137.00" x2="733.80" y2="1121.40" stroke="#111" stroke-width="1.30"/>
<text transform="translate(715.85,1159.30)" font-size="21.50" fill="#000">500</text>
<line x1="763.24" y1="1137.00" x2="763.24" y2="1129.00" stroke="#111" stroke-width="1.30"/>
<line x1="792.68" y1="1137.00" x2="792.68" y2="1129.00" stroke="#111" stroke-width="1.30"/>
<line x1="822.12" y1="1137.00" x2="822.12" y2="1129.00" stroke="#111" stroke-width="1.30"/>
<line x1="851.56" y1="1137.00" x2="851.56" y2="1129.00" stroke="#111" stroke-width="1.30"/>
<line x1="881.00" y1="1137.00" x2="881.00" y2="1121.40" stroke="#111" stroke-width="1.30"/>
<text transform="translate(863.05,1159.30)" font-size="21.50" fill="#000">550</text>
<line x1="910.44" y1="1137.00" x2="910.44" y2="1129.00" stroke="#111" stroke-width="1.30"/>
<line x1="939.88" y1="1137.00" x2="939.88" y2="1129.00" stroke="#111" stroke-width="1.30"/>
<line x1="969.32" y1="1137.00" x2="969.32" y2="1129.00" stroke="#111" stroke-width="1.30"/>
<line x1="998.76" y1="1137.00" x2="998.76" y2="1129.00" stroke="#111" stroke-width="1.30"/>
<line x1="1028.20" y1="1137.00" x2="1028.20" y2="1121.40" stroke="#111" stroke-width="1.30"/>
<text transform="translate(1010.14,1159.30)" font-size="21.50" fill="#000">600</text>
<line x1="1057.64" y1="1137.00" x2="1057.64" y2="1129.00" stroke="#111" stroke-width="1.30"/>
<text transform="translate(973.71,1187.60)" font-size="22.50" fill="#000">Pixel N.</text>
<text transform="translate(24.00,690.76) rotate(-90) scale(1.0000,1.0900)" font-size="22.70" fill="#000">Pixel N.</text>
<text transform="translate(0.39,585.00) scale(0.9300,1)" font-size="38.00" font-weight="bold" fill="#1c1c1c">C</text>
<line x1="1287.50" y1="615.20" x2="1287.50" y2="1139.30" stroke="#4a4a4a" stroke-width="1.10" stroke-dasharray="1.3 1.9"/>
<line x1="1361.05" y1="615.20" x2="1361.05" y2="1139.30" stroke="#4a4a4a" stroke-width="1.10" stroke-dasharray="1.3 1.9"/>
<line x1="1434.60" y1="615.20" x2="1434.60" y2="1139.30" stroke="#4a4a4a" stroke-width="1.10" stroke-dasharray="1.3 1.9"/>
<line x1="1508.15" y1="615.20" x2="1508.15" y2="1139.30" stroke="#4a4a4a" stroke-width="1.10" stroke-dasharray="1.3 1.9"/>
<line x1="1581.70" y1="615.20" x2="1581.70" y2="1139.30" stroke="#4a4a4a" stroke-width="1.10" stroke-dasharray="1.3 1.9"/>
<line x1="1655.25" y1="615.20" x2="1655.25" y2="1139.30" stroke="#4a4a4a" stroke-width="1.10" stroke-dasharray="1.3 1.9"/>
<line x1="1728.80" y1="615.20" x2="1728.80" y2="1139.30" stroke="#4a4a4a" stroke-width="1.10" stroke-dasharray="1.3 1.9"/>
<line x1="1280.40" y1="1053.20" x2="1765.60" y2="1053.20" stroke="#4a4a4a" stroke-width="1.10" stroke-dasharray="1.3 1.9"/>
<line x1="1280.40" y1="967.10" x2="1765.60" y2="967.10" stroke="#4a4a4a" stroke-width="1.10" stroke-dasharray="1.3 1.9"/>
<line x1="1280.40" y1="881.00" x2="1765.60" y2="881.00" stroke="#4a4a4a" stroke-width="1.10" stroke-dasharray="1.3 1.9"/>
<line x1="1280.40" y1="794.90" x2="1765.60" y2="794.90" stroke="#4a4a4a" stroke-width="1.10" stroke-dasharray="1.3 1.9"/>
<line x1="1280.40" y1="708.80" x2="1765.60" y2="708.80" stroke="#4a4a4a" stroke-width="1.10" stroke-dasharray="1.3 1.9"/>
<line x1="1280.40" y1="622.70" x2="1765.60" y2="622.70" stroke="#4a4a4a" stroke-width="1.10" stroke-dasharray="1.3 1.9"/>
<line x1="1280.40" y1="1139.30" x2="1294.40" y2="1139.30" stroke="#555" stroke-width="1.30"/>
<line x1="1280.40" y1="1122.08" x2="1287.40" y2="1122.08" stroke="#555" stroke-width="1.30"/>
<line x1="1280.40" y1="1104.86" x2="1287.40" y2="1104.86" stroke="#555" stroke-width="1.30"/>
<line x1="1280.40" y1="1087.64" x2="1287.40" y2="1087.64" stroke="#555" stroke-width="1.30"/>
<line x1="1280.40" y1="1070.42" x2="1287.40" y2="1070.42" stroke="#555" stroke-width="1.30"/>
<line x1="1280.40" y1="1053.20" x2="1294.40" y2="1053.20" stroke="#555" stroke-width="1.30"/>
<line x1="1280.40" y1="1035.98" x2="1287.40" y2="1035.98" stroke="#555" stroke-width="1.30"/>
<line x1="1280.40" y1="1018.76" x2="1287.40" y2="1018.76" stroke="#555" stroke-width="1.30"/>
<line x1="1280.40" y1="1001.54" x2="1287.40" y2="1001.54" stroke="#555" stroke-width="1.30"/>
<line x1="1280.40" y1="984.32" x2="1287.40" y2="984.32" stroke="#555" stroke-width="1.30"/>
<line x1="1280.40" y1="967.10" x2="1294.40" y2="967.10" stroke="#555" stroke-width="1.30"/>
<line x1="1280.40" y1="949.88" x2="1287.40" y2="949.88" stroke="#555" stroke-width="1.30"/>
<line x1="1280.40" y1="932.66" x2="1287.40" y2="932.66" stroke="#555" stroke-width="1.30"/>
<line x1="1280.40" y1="915.44" x2="1287.40" y2="915.44" stroke="#555" stroke-width="1.30"/>
<line x1="1280.40" y1="898.22" x2="1287.40" y2="898.22" stroke="#555" stroke-width="1.30"/>
<line x1="1280.40" y1="881.00" x2="1294.40" y2="881.00" stroke="#555" stroke-width="1.30"/>
<line x1="1280.40" y1="863.78" x2="1287.40" y2="863.78" stroke="#555" stroke-width="1.30"/>
<line x1="1280.40" y1="846.56" x2="1287.40" y2="846.56" stroke="#555" stroke-width="1.30"/>
<line x1="1280.40" y1="829.34" x2="1287.40" y2="829.34" stroke="#555" stroke-width="1.30"/>
<line x1="1280.40" y1="812.12" x2="1287.40" y2="812.12" stroke="#555" stroke-width="1.30"/>
<line x1="1280.40" y1="794.90" x2="1294.40" y2="794.90" stroke="#555" stroke-width="1.30"/>
<line x1="1280.40" y1="777.68" x2="1287.40" y2="777.68" stroke="#555" stroke-width="1.30"/>
<line x1="1280.40" y1="760.46" x2="1287.40" y2="760.46" stroke="#555" stroke-width="1.30"/>
<line x1="1280.40" y1="743.24" x2="1287.40" y2="743.24" stroke="#555" stroke-width="1.30"/>
<line x1="1280.40" y1="726.02" x2="1287.40" y2="726.02" stroke="#555" stroke-width="1.30"/>
<line x1="1280.40" y1="708.80" x2="1294.40" y2="708.80" stroke="#555" stroke-width="1.30"/>
<line x1="1280.40" y1="691.58" x2="1287.40" y2="691.58" stroke="#555" stroke-width="1.30"/>
<line x1="1280.40" y1="674.36" x2="1287.40" y2="674.36" stroke="#555" stroke-width="1.30"/>
<line x1="1280.40" y1="657.14" x2="1287.40" y2="657.14" stroke="#555" stroke-width="1.30"/>
<line x1="1280.40" y1="639.92" x2="1287.40" y2="639.92" stroke="#555" stroke-width="1.30"/>
<line x1="1280.40" y1="622.70" x2="1294.40" y2="622.70" stroke="#555" stroke-width="1.30"/>
<line x1="1287.50" y1="1139.30" x2="1287.50" y2="1123.30" stroke="#555" stroke-width="1.30"/>
<line x1="1302.21" y1="1139.30" x2="1302.21" y2="1131.30" stroke="#555" stroke-width="1.30"/>
<line x1="1316.92" y1="1139.30" x2="1316.92" y2="1131.30" stroke="#555" stroke-width="1.30"/>
<line x1="1331.63" y1="1139.30" x2="1331.63" y2="1131.30" stroke="#555" stroke-width="1.30"/>
<line x1="1346.34" y1="1139.30" x2="1346.34" y2="1131.30" stroke="#555" stroke-width="1.30"/>
<line x1="1361.05" y1="1139.30" x2="1361.05" y2="1123.30" stroke="#555" stroke-width="1.30"/>
<line x1="1375.76" y1="1139.30" x2="1375.76" y2="1131.30" stroke="#555" stroke-width="1.30"/>
<line x1="1390.47" y1="1139.30" x2="1390.47" y2="1131.30" stroke="#555" stroke-width="1.30"/>
<line x1="1405.18" y1="1139.30" x2="1405.18" y2="1131.30" stroke="#555" stroke-width="1.30"/>
<line x1="1419.89" y1="1139.30" x2="1419.89" y2="1131.30" stroke="#555" stroke-width="1.30"/>
<line x1="1434.60" y1="1139.30" x2="1434.60" y2="1123.30" stroke="#555" stroke-width="1.30"/>
<line x1="1449.31" y1="1139.30" x2="1449.31" y2="1131.30" stroke="#555" stroke-width="1.30"/>
<line x1="1464.02" y1="1139.30" x2="1464.02" y2="1131.30" stroke="#555" stroke-width="1.30"/>
<line x1="1478.73" y1="1139.30" x2="1478.73" y2="1131.30" stroke="#555" stroke-width="1.30"/>
<line x1="1493.44" y1="1139.30" x2="1493.44" y2="1131.30" stroke="#555" stroke-width="1.30"/>
<line x1="1508.15" y1="1139.30" x2="1508.15" y2="1123.30" stroke="#555" stroke-width="1.30"/>
<line x1="1522.86" y1="1139.30" x2="1522.86" y2="1131.30" stroke="#555" stroke-width="1.30"/>
<line x1="1537.57" y1="1139.30" x2="1537.57" y2="1131.30" stroke="#555" stroke-width="1.30"/>
<line x1="1552.28" y1="1139.30" x2="1552.28" y2="1131.30" stroke="#555" stroke-width="1.30"/>
<line x1="1566.99" y1="1139.30" x2="1566.99" y2="1131.30" stroke="#555" stroke-width="1.30"/>
<line x1="1581.70" y1="1139.30" x2="1581.70" y2="1123.30" stroke="#555" stroke-width="1.30"/>
<line x1="1596.41" y1="1139.30" x2="1596.41" y2="1131.30" stroke="#555" stroke-width="1.30"/>
<line x1="1611.12" y1="1139.30" x2="1611.12" y2="1131.30" stroke="#555" stroke-width="1.30"/>
<line x1="1625.83" y1="1139.30" x2="1625.83" y2="1131.30" stroke="#555" stroke-width="1.30"/>
<line x1="1640.54" y1="1139.30" x2="1640.54" y2="1131.30" stroke="#555" stroke-width="1.30"/>
<line x1="1655.25" y1="1139.30" x2="1655.25" y2="1123.30" stroke="#555" stroke-width="1.30"/>
<line x1="1669.96" y1="1139.30" x2="1669.96" y2="1131.30" stroke="#555" stroke-width="1.30"/>
<line x1="1684.67" y1="1139.30" x2="1684.67" y2="1131.30" stroke="#555" stroke-width="1.30"/>
<line x1="1699.38" y1="1139.30" x2="1699.38" y2="1131.30" stroke="#555" stroke-width="1.30"/>
<line x1="1714.09" y1="1139.30" x2="1714.09" y2="1131.30" stroke="#555" stroke-width="1.30"/>
<line x1="1728.80" y1="1139.30" x2="1728.80" y2="1123.30" stroke="#555" stroke-width="1.30"/>
<line x1="1743.51" y1="1139.30" x2="1743.51" y2="1131.30" stroke="#555" stroke-width="1.30"/>
<line x1="1758.22" y1="1139.30" x2="1758.22" y2="1131.30" stroke="#555" stroke-width="1.30"/>
<path d="M1280.40 615.20 H1765.60 V1139.30 H1280.40 Z" fill="none" stroke="#555" stroke-width="1.3"/>
<path d="M1280.74 1139.30 V1139.30 H1294.86 V1139.30 H1309.57 V1133.96 H1324.28 V1134.99 H1338.98 V1133.96 H1353.69 V1136.54 H1368.40 V1134.31 H1383.12 V1134.31 H1397.83 V1130.86 H1412.54 V1074.55 H1427.24 V1086.78 H1441.95 V1102.79 H1456.66 V1079.55 H1471.38 V1057.16 H1486.09 V842.77 H1500.80 V863.44 H1515.51 V640.44 H1530.21 V948.16 H1544.92 V1055.78 H1559.63 V1113.64 H1574.35 V1127.76 H1589.06 V1134.82 H1603.77 V1137.41 H1618.47 V1138.44 H1633.18 V1138.61 H1647.89 V1138.61 H1662.61 V1138.61 H1677.32 V1138.61 H1692.03 V1138.61 H1706.74 V1139.30 H1721.45 V1139.30 H1736.15 V1139.30 H1750.87 V1139.30 H1765.00" fill="none" stroke="#1f1f8a" stroke-width="2.2" stroke-linejoin="miter"/>
<path d="M1280.74 1139.30 V1139.30 H1294.86 V1139.30 H1309.57 V1108.99 H1324.28 V1111.40 H1338.98 V1107.10 H1353.69 V1129.92 H1368.40 V1130.52 H1383.12 V1132.24 H1397.83 V1128.45 H1412.54 V1073.35 H1427.24 V1081.79 H1441.95 V1101.59 H1456.66 V1080.06 H1471.38 V1053.54 H1486.09 V886.51 H1500.80 V904.07 H1515.51 V697.95 H1530.21 V948.16 H1544.92 V1047.52 H1559.63 V1110.03 H1574.35 V1123.63 H1589.06 V1132.58 H1603.77 V1134.48 H1618.47 V1136.03 H1633.18 V1136.37 H1647.89 V1136.54 H1662.61 V1136.72 H1677.32 V1136.03 H1692.03 V1137.23 H1706.74 V1139.30 H1721.45 V1139.30 H1736.15 V1139.30 H1750.87 V1139.30 H1765.00" fill="none" stroke="#d0161a" stroke-width="2.2" stroke-linejoin="miter"/>
<rect x="1581.40" y="615.20" width="184.20" height="93.20" fill="#fff" stroke="#555" stroke-width="1.30"/>
<line x1="1588.40" y1="638.40" x2="1620.60" y2="638.40" stroke="#1f1f8a" stroke-width="2.20"/>
<line x1="1588.40" y1="685.40" x2="1620.60" y2="685.40" stroke="#d0161a" stroke-width="2.20"/>
<text transform="translate(1628.40,648.30) scale(1.0350,1)" font-size="23.20" fill="#000">15 kHz</text>
<text transform="translate(1628.40,695.10) scale(1.0350,1)" font-size="23.20" fill="#000">145 kHz</text>
<text transform="translate(1266.72,1146.40)" font-size="19.20" fill="#000">0</text>
<text transform="translate(1266.81,1060.30)" font-size="19.20" fill="#000">5</text>
<text transform="translate(1256.06,974.20)" font-size="19.20" fill="#000">10</text>
<text transform="translate(1256.16,888.10)" font-size="19.20" fill="#000">15</text>
<text transform="translate(1256.06,802.00)" font-size="19.20" fill="#000">20</text>
<text transform="translate(1256.16,715.90)" font-size="19.20" fill="#000">25</text>
<text transform="translate(1256.06,629.80)" font-size="19.20" fill="#000">30</text>
<text transform="translate(1282.12,1161.00)" font-size="19.20" fill="#000">0</text>
<text transform="translate(1355.72,1161.00)" font-size="19.20" fill="#000">5</text>
<text transform="translate(1423.56,1161.00)" font-size="19.20" fill="#000">10</text>
<text transform="translate(1497.16,1161.00)" font-size="19.20" fill="#000">15</text>
<text transform="translate(1570.90,1161.00)" font-size="19.20" fill="#000">20</text>
<text transform="translate(1644.50,1161.00)" font-size="19.20" fill="#000">25</text>
<text transform="translate(1718.10,1161.00)" font-size="19.20" fill="#000">30</text>
<text transform="translate(1660.61,1183.50)" font-size="19.40" fill="#000">Cluster Size</text>
<text transform="translate(1243.00,740.99) rotate(-90)" font-size="19.70" fill="#000">Frequency [%]</text>
<text transform="translate(1183.40,605.40) scale(0.9700,1)" font-size="38.00" font-weight="bold" fill="#1c1c1c">D</text>
</svg>
</body></html>
